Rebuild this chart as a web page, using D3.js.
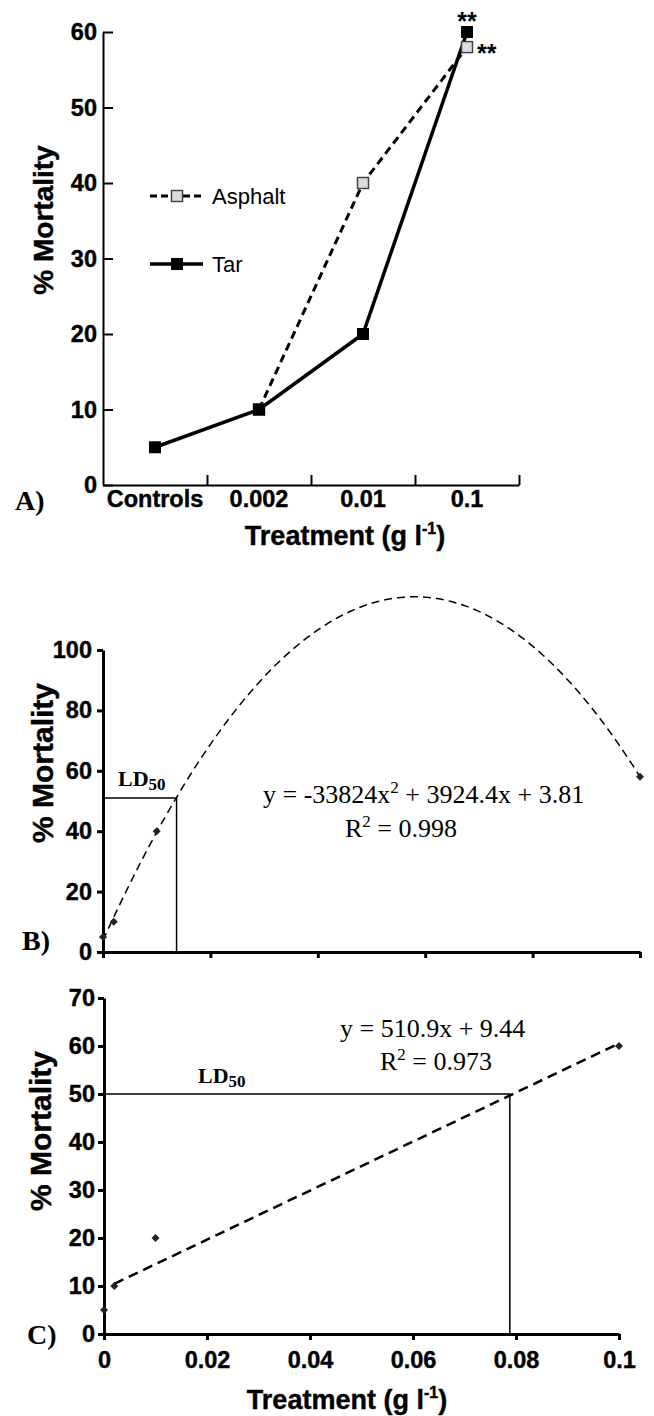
<!DOCTYPE html>
<html>
<head>
<meta charset="utf-8">
<script src="https://cdn.jsdelivr.net/npm/d3@7"></script>
<style>
  body { margin: 0; background: #fff; }
  svg { display: block; }
</style>
</head>
<body>
<div id="chart"></div>
<script>
// A) mortality per treatment, both products
const categoriesA = ["Controls", "0.002", "0.01", "0.1"];
const asphaltA = [null, 10, 40, 58];
const tarA = [5, 10, 20, 60];
const yTicksA = [0, 10, 20, 30, 40, 50, 60];

// B) asphalt, quadratic fit
const concB = [0, 0.002, 0.01, 0.1];
const mortB = [5, 10, 40, 58];
const fitB = [-33824, 3924.4, 3.81];
const ld50B = [0.0137, 51];
const yTicksB = [0, 20, 40, 60, 80, 100];

// C) tar, linear fit
const concC = [0, 0.002, 0.01, 0.1];
const mortC = [5, 10, 20, 60];
const fitC = [510.9, 9.44];
const fitRangeC = [0.002, 0.1];
const ld50C = [0.0788, 50];
const yTicksC = [0, 10, 20, 30, 40, 50, 60, 70];
const xTicksBC = [0, 0.02, 0.04, 0.06, 0.08, 0.1];

const SANS = "'Liberation Sans', Arial, Helvetica, sans-serif";
const SERIF = "'Liberation Serif', 'Times New Roman', serif";
const TICK_FONT = 23.5;

const svg = d3.select("#chart").append("svg")
    .attr("width", 654)
    .attr("height", 1416);

function heavy(sel) {
    // the scanned labels look heavier than plain bold
    sel.attr("stroke", "#000").attr("stroke-width", 0.4).attr("paint-order", "stroke");
}

function styleAxis(g, width, fontSize) {
    g.attr("font-family", SANS).attr("font-size", fontSize).attr("font-weight", "bold");
    g.select(".domain").attr("stroke", "#000").attr("stroke-width", width);
    g.selectAll(".tick line").attr("stroke", "#000").attr("stroke-width", width);
    g.selectAll(".tick text").attr("fill", "#000").call(heavy);
}

function sansText(x, y, txt, size, anchor) {
    return svg.append("text")
        .attr("x", x).attr("y", y)
        .attr("font-family", SANS)
        .attr("font-weight", "bold")
        .attr("font-size", size)
        .attr("text-anchor", anchor || "start")
        .text(txt);
}

function yTitle(x, y, size) {
    svg.append("text")
        .attr("transform", `translate(${x},${y}) rotate(-90)`)
        .attr("font-family", SANS)
        .attr("font-weight", "bold")
        .attr("font-size", size)
        .attr("text-anchor", "middle")
        .text("% Mortality")
        .call(heavy);
}

function xTitle(x, y) {
    let t = svg.append("text")
        .attr("x", x).attr("y", y)
        .attr("font-family", SANS)
        .attr("font-weight", "bold")
        .attr("font-size", 27)
        .attr("text-anchor", "middle")
        .call(heavy);
    t.append("tspan").text("Treatment (g l");
    t.append("tspan").attr("font-size", 16).attr("dy", -11).text("-1");
    t.append("tspan").attr("dy", 11).text(")");
}

function panelLetter(x, y, txt) {
    svg.append("text")
        .attr("x", x).attr("y", y)
        .attr("font-family", SERIF)
        .attr("font-weight", "bold")
        .attr("font-size", 28)
        .text(txt);
}

function ldLabel(x, y) {
    let t = svg.append("text")
        .attr("x", x).attr("y", y)
        .attr("font-family", SERIF)
        .attr("font-weight", "bold")
        .attr("font-size", 22);
    t.append("tspan").text("LD");
    t.append("tspan").attr("font-size", 17).attr("dy", 4).text("50");
}

function equation(x, y, pre, post) {
    let t = svg.append("text")
        .attr("x", x).attr("y", y)
        .attr("font-family", SERIF)
        .attr("font-size", 26);
    t.append("tspan").text(pre);
    t.append("tspan").attr("font-size", 17).attr("dy", -10).text("2");
    t.append("tspan").attr("dy", 10).text(post);
}

function diamonds(xs, ys, xScale, yScale) {
    svg.append("g").selectAll("path")
        .data(xs.map((x, i) => [x, ys[i]]))
        .enter()
        .append("path")
        .attr("d", d3.symbol().type(d3.symbolSquare).size(32))
        .attr("transform", d => `translate(${xScale(d[0])},${yScale(d[1])}) rotate(45)`)
        .attr("fill", "#222");
}

// ---------- panel A ----------
const xA = d3.scaleBand().domain(categoriesA).range([103, 519]);
const xAEdges = d3.scaleLinear().domain([0, categoriesA.length]).range(xA.range());
const yA = d3.scaleLinear().domain([0, 60]).range([485, 32]);
const cx = c => xA(c) + xA.bandwidth() / 2;

svg.append("g")
    .attr("transform", "translate(103,0)")
    .call(d3.axisLeft(yA).tickValues(yTicksA).tickSize(-10).tickSizeOuter(0).tickPadding(6))
    .call(g => styleAxis(g, 2, TICK_FONT));

svg.append("g")
    .attr("transform", "translate(0,485)")
    .call(d3.axisBottom(xAEdges).tickValues(d3.range(1, categoriesA.length + 1)).tickSize(-10).tickSizeOuter(0).tickFormat(""))
    .call(g => styleAxis(g, 2, TICK_FONT));

svg.append("g")
    .attr("transform", "translate(0,485)")
    .call(d3.axisBottom(xA).tickSize(0).tickPadding(5))
    .call(g => g.select(".domain").remove())
    .call(g => styleAxis(g, 2, TICK_FONT));

const lineA = d3.line()
    .defined(d => d[1] != null)
    .x(d => cx(d[0]))
    .y(d => yA(d[1]));

const asphaltPts = categoriesA.map((c, i) => [c, asphaltA[i]]);
const tarPts = categoriesA.map((c, i) => [c, tarA[i]]);

svg.append("path")
    .attr("d", lineA(asphaltPts))
    .attr("fill", "none")
    .attr("stroke", "#000")
    .attr("stroke-width", 3)
    .attr("stroke-dasharray", "8,5");

svg.append("path")
    .attr("d", lineA(tarPts))
    .attr("fill", "none")
    .attr("stroke", "#000")
    .attr("stroke-width", 3.5)
    .attr("stroke-linejoin", "round");

svg.append("g").selectAll("rect")
    .data(asphaltPts.filter(d => d[1] != null))
    .enter()
    .append("rect")
    .attr("x", d => cx(d[0]) - 5.5)
    .attr("y", d => yA(d[1]) - 5.5)
    .attr("width", 11)
    .attr("height", 11)
    .attr("fill", "#ddd")
    .attr("stroke", "#444")
    .attr("stroke-width", 1.5);

svg.append("g").selectAll("rect")
    .data(tarPts)
    .enter()
    .append("rect")
    .attr("x", d => cx(d[0]) - 6)
    .attr("y", d => yA(d[1]) - 6)
    .attr("width", 12)
    .attr("height", 12)
    .attr("fill", "#000");

// significance stars
sansText(cx("0.1"), yA(tarA[3]) - 2, "**", 25, "middle");
sansText(cx("0.1") + 10, yA(asphaltA[3]) + 15, "**", 25, "start");

// legend
svg.append("line").attr("x1", 150).attr("x2", 203).attr("y1", 196).attr("y2", 196)
    .attr("stroke", "#000").attr("stroke-width", 3).attr("stroke-dasharray", "7,4");
svg.append("rect").attr("x", 171.5).attr("y", 190.5).attr("width", 11).attr("height", 11)
    .attr("fill", "#ddd").attr("stroke", "#444").attr("stroke-width", 1.5);
svg.append("text").attr("x", 212).attr("y", 204)
    .attr("font-family", SANS).attr("font-size", 22).text("Asphalt");

svg.append("line").attr("x1", 150).attr("x2", 203).attr("y1", 264).attr("y2", 264)
    .attr("stroke", "#000").attr("stroke-width", 3.5);
svg.append("rect").attr("x", 171).attr("y", 258).attr("width", 12).attr("height", 12).attr("fill", "#000");
svg.append("text").attr("x", 212).attr("y", 272)
    .attr("font-family", SANS).attr("font-size", 22).text("Tar");

yTitle(53, 220, 28);
xTitle(345, 545);
panelLetter(15, 510, "A)");

// ---------- panel B ----------
const xB = d3.scaleLinear().domain([0, 0.1]).range([103, 640]);
const yB = d3.scaleLinear().domain([0, 100]).range([952, 650]);

svg.append("g")
    .attr("transform", "translate(103,0)")
    .call(d3.axisLeft(yB).tickValues(yTicksB).tickSize(6).tickSizeOuter(0).tickPadding(5))
    .call(g => styleAxis(g, 3, TICK_FONT));

svg.append("g")
    .attr("transform", "translate(0,952)")
    .call(d3.axisBottom(xB).tickValues(xTicksBC).tickSize(6).tickSizeOuter(0).tickFormat(""))
    .call(g => styleAxis(g, 3, TICK_FONT));

const curveB = d3.range(0, 0.1005, 0.001)
    .map(x => [x, fitB[0] * x * x + fitB[1] * x + fitB[2]]);

svg.append("path")
    .attr("d", d3.line().x(d => xB(d[0])).y(d => yB(d[1]))(curveB))
    .attr("fill", "none")
    .attr("stroke", "#000")
    .attr("stroke-width", 1.5)
    .attr("stroke-dasharray", "8,5");

svg.append("path")
    .attr("d", `M${xB(0)},${yB(ld50B[1])}H${xB(ld50B[0])}V${yB(0)}`)
    .attr("fill", "none")
    .attr("stroke", "#000")
    .attr("stroke-width", 1.5);

diamonds(concB, mortB, xB, yB);

ldLabel(118, 786);
equation(263, 803, "y = -33824x", " + 3924.4x + 3.81");
equation(345, 837, "R", " = 0.998");
yTitle(53, 763, 30);
panelLetter(22, 950, "B)");

// ---------- panel C ----------
const xC = d3.scaleLinear().domain([0, 0.1]).range([104, 619]);
const yC = d3.scaleLinear().domain([0, 70]).range([1334, 998]);

svg.append("g")
    .attr("transform", "translate(104,0)")
    .call(d3.axisLeft(yC).tickValues(yTicksC).tickSize(6).tickSizeOuter(0).tickPadding(3))
    .call(g => styleAxis(g, 3, TICK_FONT));

svg.append("g")
    .attr("transform", "translate(0,1334)")
    .call(d3.axisBottom(xC).tickValues(xTicksBC).tickSize(6).tickSizeOuter(0).tickPadding(11).tickFormat(d => d === 0 ? "0" : d3.format(".2~f")(d)))
    .call(g => styleAxis(g, 3, TICK_FONT));

svg.append("path")
    .attr("d", d3.line().x(d => xC(d)).y(d => yC(fitC[0] * d + fitC[1]))(fitRangeC))
    .attr("fill", "none")
    .attr("stroke", "#000")
    .attr("stroke-width", 2.5)
    .attr("stroke-dasharray", "10,6");

svg.append("path")
    .attr("d", `M${xC(0)},${yC(ld50C[1])}H${xC(ld50C[0])}V${yC(0)}`)
    .attr("fill", "none")
    .attr("stroke", "#000")
    .attr("stroke-width", 1.5);

diamonds(concC, mortC, xC, yC);

ldLabel(198, 1083);
svg.append("text").attr("x", 340).attr("y", 1037)
    .attr("font-family", SERIF).attr("font-size", 26)
    .text("y = 510.9x + 9.44");
equation(380, 1070, "R", " = 0.973");
yTitle(51, 1131, 30);
xTitle(347, 1409);
panelLetter(27, 1344, "C)");
</script>
</body>
</html>
